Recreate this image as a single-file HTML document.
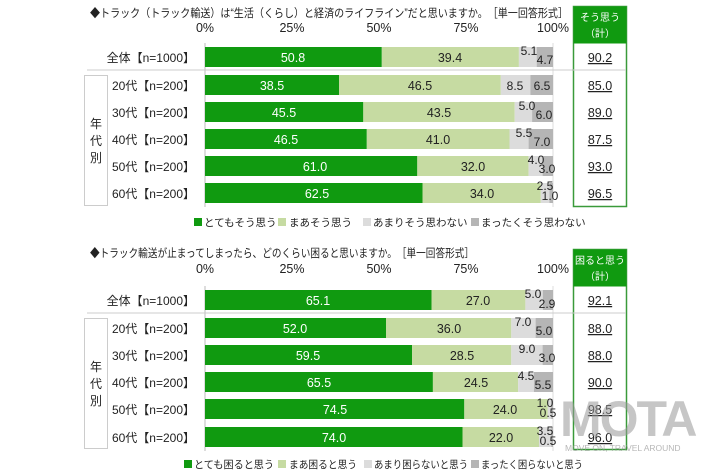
<!DOCTYPE html>
<html><head><meta charset="utf-8"><style>
html,body{margin:0;padding:0;background:#fff;}
svg{display:block;font-family:"Liberation Sans","Noto Sans CJK JP",sans-serif;}
.t{font-size:11.5px;fill:#222}
.v{font-size:12.5px;text-anchor:middle}
.w{fill:#fff}
.k{fill:#222}
.lab{font-size:12px;fill:#222;text-anchor:end}
.ax{font-size:12.5px;fill:#222;text-anchor:middle}
.sm{font-size:12px;fill:#222;text-anchor:middle}
.hd{font-size:10px;fill:#fff;text-anchor:middle}
.tot{font-size:12.5px;fill:#222;text-anchor:middle;text-decoration:underline}
.lg{font-size:10.5px;fill:#222}
</style></head><body>
<svg width="710" height="473" viewBox="0 0 710 473" xmlns="http://www.w3.org/2000/svg">
<g>
<text x="90" y="17" class="t" textLength="478" lengthAdjust="spacingAndGlyphs">◆トラック（トラック輸送）は“生活（くらし）と経済のライフライン”だと思いますか。　［単一回答形式］</text>
<text x="205" y="32" class="ax">0%</text><text x="292" y="32" class="ax">25%</text><text x="379" y="32" class="ax">50%</text><text x="466" y="32" class="ax">75%</text><text x="553" y="32" class="ax">100%</text>
<line x1="205" y1="43" x2="205" y2="207" stroke="#bbb"/>
<line x1="553" y1="43" x2="553" y2="207" stroke="#ddd"/>
<line x1="87" y1="70" x2="573" y2="70" stroke="#ccc"/>
<rect x="84.5" y="75.5" width="23" height="130" fill="none" stroke="#ccc"/>
<text x="96" y="128" class="sm">年</text><text x="96" y="145" class="sm">代</text><text x="96" y="162" class="sm">別</text>
<text x="195" y="62" class="lab">全体【n=1000】</text>
<text x="195" y="90" class="lab">20代【n=200】</text>
<text x="195" y="117" class="lab">30代【n=200】</text>
<text x="195" y="144" class="lab">40代【n=200】</text>
<text x="195" y="171" class="lab">50代【n=200】</text>
<text x="195" y="198" class="lab">60代【n=200】</text>
<g>
<rect x="205" y="47" width="176.8" height="20" fill="#109a10"/><rect x="381.8" y="47" width="137.1" height="20" fill="#c6dba2"/><rect x="518.9" y="47" width="17.8" height="20" fill="#dcdcdc"/><rect x="536.7" y="47" width="16.3" height="20" fill="#b5b5b5"/>
<text x="293" y="62" class="v w">50.8</text><text x="450" y="62" class="v k">39.4</text><text x="529" y="55" class="sm">5.1</text><text x="545" y="64" class="sm">4.7</text>
<rect x="205" y="75" width="134" height="20" fill="#109a10"/><rect x="339" y="75" width="161.8" height="20" fill="#c6dba2"/><rect x="500.8" y="75" width="29.6" height="20" fill="#dcdcdc"/><rect x="530.4" y="75" width="22.6" height="20" fill="#b5b5b5"/>
<text x="272" y="90" class="v w">38.5</text><text x="420" y="90" class="v k">46.5</text><text x="515" y="90" class="sm">8.5</text><text x="542" y="90" class="sm">6.5</text>
<rect x="205" y="102" width="158.3" height="20" fill="#109a10"/><rect x="363.3" y="102" width="151.4" height="20" fill="#c6dba2"/><rect x="514.7" y="102" width="17.4" height="20" fill="#dcdcdc"/><rect x="532.1" y="102" width="20.9" height="20" fill="#b5b5b5"/>
<text x="284" y="117" class="v w">45.5</text><text x="439" y="117" class="v k">43.5</text><text x="527" y="110" class="sm">5.0</text><text x="544" y="119" class="sm">6.0</text>
<rect x="205" y="129" width="161.8" height="20" fill="#109a10"/><rect x="366.8" y="129" width="142.7" height="20" fill="#c6dba2"/><rect x="509.5" y="129" width="19.1" height="20" fill="#dcdcdc"/><rect x="528.6" y="129" width="24.4" height="20" fill="#b5b5b5"/>
<text x="286" y="144" class="v w">46.5</text><text x="438" y="144" class="v k">41.0</text><text x="524" y="137" class="sm">5.5</text><text x="542" y="146" class="sm">7.0</text>
<rect x="205" y="156" width="212.3" height="20" fill="#109a10"/><rect x="417.3" y="156" width="111.3" height="20" fill="#c6dba2"/><rect x="528.6" y="156" width="14" height="20" fill="#dcdcdc"/><rect x="542.6" y="156" width="10.4" height="20" fill="#b5b5b5"/>
<text x="315" y="171" class="v w">61.0</text><text x="473" y="171" class="v k">32.0</text><text x="536" y="164" class="sm">4.0</text><text x="547" y="173" class="sm">3.0</text>
<rect x="205" y="183" width="217.5" height="20" fill="#109a10"/><rect x="422.5" y="183" width="118.3" height="20" fill="#c6dba2"/><rect x="540.8" y="183" width="8.7" height="20" fill="#dcdcdc"/><rect x="549.5" y="183" width="3.5" height="20" fill="#b5b5b5"/>
<text x="317" y="198" class="v w">62.5</text><text x="482" y="198" class="v k">34.0</text><text x="545" y="190" class="sm">2.5</text><text x="550" y="200" class="sm">1.0</text>
</g>
<rect x="573.5" y="6.5" width="53" height="200" fill="none" stroke="#3a9a3a" stroke-width="1.5"/>
<rect x="573.5" y="6.5" width="53" height="37" fill="#109a10"/>
<text x="600" y="21" class="hd">そう思う</text><text x="600" y="37" class="hd">（計）</text>
<line x1="573" y1="70" x2="626" y2="70" stroke="#ccc"/>
<text x="600" y="62" class="tot">90.2</text><text x="600" y="90" class="tot">85.0</text><text x="600" y="117" class="tot">89.0</text><text x="600" y="144" class="tot">87.5</text><text x="600" y="171" class="tot">93.0</text><text x="600" y="198" class="tot">96.5</text>
<rect x="194" y="218" width="8" height="8" fill="#109a10"/><text x="204" y="226" class="lg">とてもそう思う</text>
<rect x="278" y="218" width="8" height="8" fill="#c6dba2"/><text x="289" y="226" class="lg">まあそう思う</text>
<rect x="363" y="218" width="8" height="8" fill="#dcdcdc"/><text x="373" y="226" class="lg">あまりそう思わない</text>
<rect x="471" y="218" width="8" height="8" fill="#b5b5b5"/><text x="481" y="226" class="lg">まったくそう思わない</text>
</g>

<g>
<text x="90" y="257" class="t" textLength="384" lengthAdjust="spacingAndGlyphs">◆トラック輸送が止まってしまったら、どのくらい困ると思いますか。　［単一回答形式］</text>
<text x="205" y="273" class="ax">0%</text><text x="292" y="273" class="ax">25%</text><text x="379" y="273" class="ax">50%</text><text x="466" y="273" class="ax">75%</text><text x="553" y="273" class="ax">100%</text>
<line x1="205" y1="286" x2="205" y2="451" stroke="#bbb"/>
<line x1="553" y1="286" x2="553" y2="451" stroke="#ddd"/>
<line x1="87" y1="313" x2="573" y2="313" stroke="#ccc"/>
<rect x="84.5" y="318.5" width="23" height="130" fill="none" stroke="#ccc"/>
<text x="96" y="371" class="sm">年</text><text x="96" y="388" class="sm">代</text><text x="96" y="405" class="sm">別</text>
<text x="195" y="305" class="lab">全体【n=1000】</text>
<text x="195" y="333" class="lab">20代【n=200】</text>
<text x="195" y="360" class="lab">30代【n=200】</text>
<text x="195" y="387" class="lab">40代【n=200】</text>
<text x="195" y="414" class="lab">50代【n=200】</text>
<text x="195" y="442" class="lab">60代【n=200】</text>
<rect x="205" y="290" width="226.5" height="20" fill="#109a10"/><rect x="431.5" y="290" width="93.9" height="20" fill="#c6dba2"/><rect x="525.4" y="290" width="17.4" height="20" fill="#dcdcdc"/><rect x="542.8" y="290" width="10.2" height="20" fill="#b5b5b5"/>
<text x="318" y="305" class="v w">65.1</text><text x="478" y="305" class="v k">27.0</text><text x="533" y="298" class="sm">5.0</text><text x="547" y="308" class="sm">2.9</text>
<rect x="205" y="318" width="181" height="20" fill="#109a10"/><rect x="386" y="318" width="125.3" height="20" fill="#c6dba2"/><rect x="511.3" y="318" width="24.3" height="20" fill="#dcdcdc"/><rect x="535.6" y="318" width="17.4" height="20" fill="#b5b5b5"/>
<text x="295" y="333" class="v w">52.0</text><text x="449" y="333" class="v k">36.0</text><text x="523" y="326" class="sm">7.0</text><text x="544" y="335" class="sm">5.0</text>
<rect x="205" y="345" width="207.1" height="20" fill="#109a10"/><rect x="412.1" y="345" width="99.2" height="20" fill="#c6dba2"/><rect x="511.3" y="345" width="31.3" height="20" fill="#dcdcdc"/><rect x="542.6" y="345" width="10.4" height="20" fill="#b5b5b5"/>
<text x="308" y="360" class="v w">59.5</text><text x="462" y="360" class="v k">28.5</text><text x="527" y="353" class="sm">9.0</text><text x="547" y="362" class="sm">3.0</text>
<rect x="205" y="372" width="227.9" height="20" fill="#109a10"/><rect x="432.9" y="372" width="85.3" height="20" fill="#c6dba2"/><rect x="518.2" y="372" width="15.7" height="20" fill="#dcdcdc"/><rect x="533.9" y="372" width="19.1" height="20" fill="#b5b5b5"/>
<text x="319" y="387" class="v w">65.5</text><text x="476" y="387" class="v k">24.5</text><text x="526" y="380" class="sm">4.5</text><text x="543" y="389" class="sm">5.5</text>
<rect x="205" y="399" width="259.3" height="20" fill="#109a10"/><rect x="464.3" y="399" width="83.5" height="20" fill="#c6dba2"/><rect x="547.8" y="399" width="3.5" height="20" fill="#dcdcdc"/><rect x="551.3" y="399" width="1.7" height="20" fill="#b5b5b5"/>
<text x="335" y="414" class="v w">74.5</text><text x="505" y="414" class="v k">24.0</text><text x="545" y="407" class="sm">1.0</text><text x="548" y="417" class="sm">0.5</text>
<rect x="205" y="427" width="257.5" height="20" fill="#109a10"/><rect x="462.5" y="427" width="76.5" height="20" fill="#c6dba2"/><rect x="539" y="427" width="12.3" height="20" fill="#dcdcdc"/><rect x="551.3" y="427" width="1.7" height="20" fill="#b5b5b5"/>
<text x="334" y="442" class="v w">74.0</text><text x="501" y="442" class="v k">22.0</text><text x="545" y="435" class="sm">3.5</text><text x="548" y="445" class="sm">0.5</text>
<rect x="573.5" y="249.5" width="53" height="200" fill="none" stroke="#3a9a3a" stroke-width="1.5"/>
<rect x="573.5" y="249.5" width="53" height="37" fill="#109a10"/>
<text x="600" y="264" class="hd">困ると思う</text><text x="600" y="280" class="hd">（計）</text>
<line x1="573" y1="313" x2="626" y2="313" stroke="#ccc"/>
<text x="600" y="305" class="tot">92.1</text><text x="600" y="333" class="tot">88.0</text><text x="600" y="360" class="tot">88.0</text><text x="600" y="387" class="tot">90.0</text><text x="600" y="414" class="tot">98.5</text><text x="600" y="442" class="tot">96.0</text>
<rect x="184" y="460" width="8" height="8" fill="#109a10"/><text x="194" y="468" class="lg" textLength="80" lengthAdjust="spacingAndGlyphs">とても困ると思う</text>
<rect x="278" y="460" width="8" height="8" fill="#c6dba2"/><text x="289" y="468" class="lg" textLength="68" lengthAdjust="spacingAndGlyphs">まあ困ると思う</text>
<rect x="364" y="460" width="8" height="8" fill="#dcdcdc"/><text x="374" y="468" class="lg" textLength="94" lengthAdjust="spacingAndGlyphs">あまり困らないと思う</text>
<rect x="471" y="460" width="8" height="8" fill="#b5b5b5"/><text x="481" y="468" class="lg" textLength="102" lengthAdjust="spacingAndGlyphs">まったく困らないと思う</text>
</g>
<text x="560" y="436" style="font-size:50px;font-weight:bold;fill:#999;opacity:0.55;letter-spacing:-2px">MOTA</text>
<text x="565" y="451" style="font-size:8.5px;fill:#999;opacity:0.7">MOVE ON, TRAVEL AROUND</text>
</svg>
</body></html>
